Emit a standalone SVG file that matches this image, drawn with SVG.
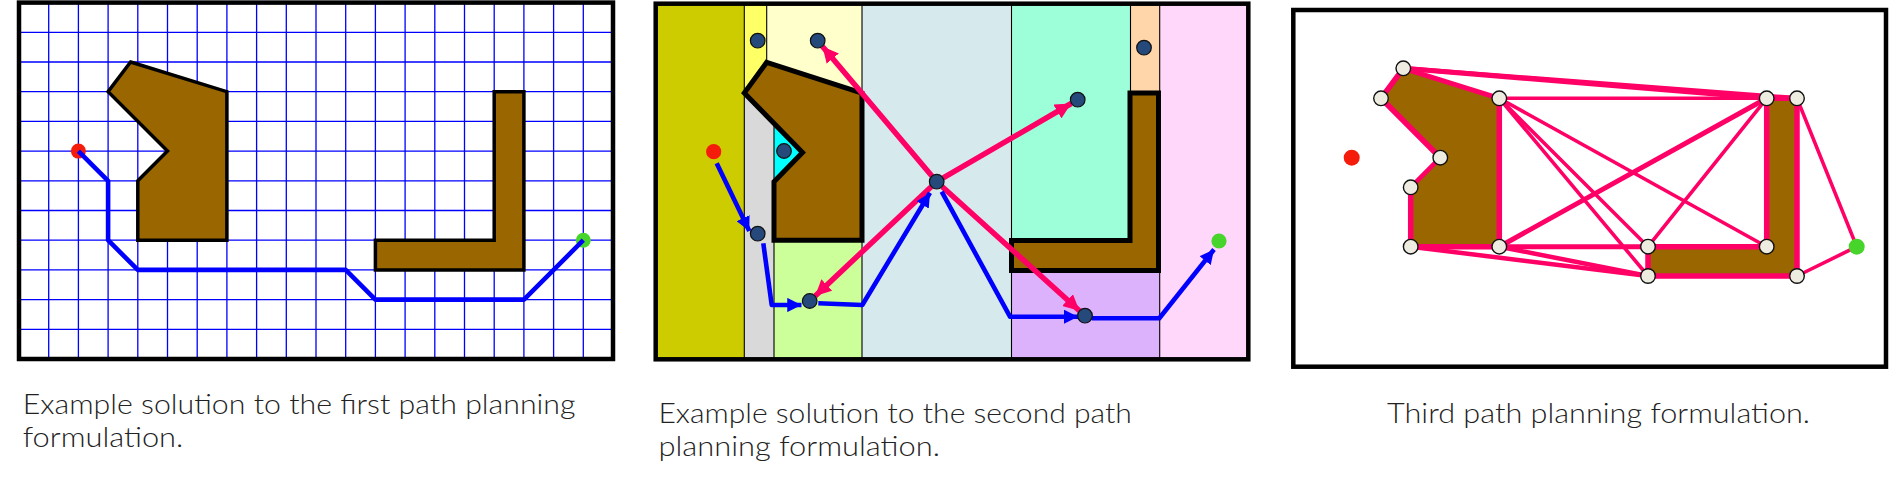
<svg xmlns="http://www.w3.org/2000/svg" width="1889" height="491" viewBox="0 0 1889 491">
<style>
.frame{fill:none;stroke:#000;stroke-width:4.5}
.grid{fill:none;stroke:#0000FF;stroke-width:1.3}
.obs{fill:#996600;stroke:#000;stroke-width:3.5;stroke-linejoin:miter}
.obs2{fill:#996600;stroke:#000;stroke-width:5;stroke-linejoin:miter}
.obs3{fill:#996600;stroke:#333;stroke-width:1}
.div{stroke:#000;stroke-width:1.1;fill:none}
.start{fill:#F51C0C}
.goal{fill:#47D52C}
.n2{fill:#24497A;stroke:#101010;stroke-width:1.2}
.vx{fill:#EEECE1;stroke:#111;stroke-width:1.4}
.bl{fill:none;stroke:#0000FF;stroke-width:4.6;stroke-linejoin:round}
.pk{fill:none;stroke:#FF0066;stroke-width:5.5}
.e{stroke:#FF0066;stroke-linecap:round}
.cap{font-family:Lato,"Open Sans","Liberation Sans",sans-serif;font-weight:300;font-size:26.5px;fill:#222}
</style>
<defs>
<marker id="ab" viewBox="0 0 10 10" refX="10" refY="5" markerWidth="3.1" markerHeight="3.1" orient="auto" markerUnits="strokeWidth">
<path d="M0,0 L10,5 L0,10 z" fill="#0000FF"/>
</marker>
<marker id="ap" viewBox="0 0 10 10" refX="10" refY="5" markerWidth="2.9" markerHeight="2.9" orient="auto" markerUnits="strokeWidth">
<path d="M0,0 L10,5 L0,10 z" fill="#FF0066"/>
</marker>
</defs>

<!-- ================= PANEL 1 ================= -->
<g id="panel1">
<rect x="19" y="2.6" width="594" height="356.4" fill="#fff"/>
<path class="grid" d="M48.7 2.6V359M78.4 2.6V359M108.1 2.6V359M137.8 2.6V359M167.5 2.6V359M197.2 2.6V359M226.9 2.6V359M256.6 2.6V359M286.3 2.6V359M316 2.6V359M345.7 2.6V359M375.4 2.6V359M405.1 2.6V359M434.8 2.6V359M464.5 2.6V359M494.2 2.6V359M523.9 2.6V359M553.6 2.6V359M583.3 2.6V359M19 32.3H613M19 62H613M19 91.7H613M19 121.4H613M19 151.1H613M19 180.8H613M19 210.5H613M19 240.2H613M19 269.9H613M19 299.6H613M19 329.3H613"/>
<g id="p1-obstacle1"><polygon class="obs" points="130.6,62 226.9,91.7 226.9,240.2 137.8,240.2 137.8,180.8 167.5,151.1 108.1,91.7"/></g>
<g id="p1-obstacle2"><polygon class="obs" points="375.4,240.2 494.2,240.2 494.2,91.7 523.9,91.7 523.9,269.9 375.4,269.9"/></g>
<g id="p1-start"><circle class="start" cx="78.4" cy="151.1" r="7.5"/></g>
<g id="p1-goal"><circle class="goal" cx="583.3" cy="240.2" r="7.5"/></g>
<g id="p1-connectors">
<polyline class="bl" points="78.4,151.1 108.1,180.8 108.1,240.2 137.8,269.9 345.7,269.9 375.4,299.6 523.9,299.6 583.3,240.2"/>
</g>
<rect class="frame" x="19" y="2.6" width="594" height="356.4"/>
</g>

<!-- ================= PANEL 2 ================= -->
<g id="panel2">
<g id="p2-cells">
<rect x="655.7" y="3.7" width="88.6" height="355.6" fill="#CCCC00"/>
<rect x="744.3" y="3.7" width="22.4" height="92" fill="#FFFF66"/>
<rect x="766.7" y="3.7" width="95.3" height="92" fill="#FFFFCC"/>
<rect x="744.3" y="93" width="29.7" height="266.3" fill="#D9D9D9"/>
<polygon points="774,120 804,152.5 774,184" fill="#00FFFF"/>
<rect x="774" y="240" width="88" height="119.3" fill="#CCFF99"/>
<rect x="862" y="3.7" width="149.5" height="355.6" fill="#D6EAEE"/>
<rect x="1011.5" y="3.7" width="119" height="237" fill="#9CFFD9"/>
<rect x="1130.5" y="3.7" width="29.2" height="90" fill="#FFD6AA"/>
<rect x="1011.5" y="270" width="148.2" height="89.3" fill="#DDB2FC"/>
<rect x="1159.7" y="3.7" width="88.6" height="355.6" fill="#FFD7FB"/>
<path class="div" d="M744.3 3.7V359.3M766.7 3.7V62.3M774 120V359.3M862 3.7V359.3M1011.5 3.7V359.3M1130.5 3.7V93M1159.7 3.7V359.3"/>
</g>
<g id="p2-obstacle1"><polygon class="obs2" points="766.7,62.3 862,93 862,240.3 774,240.3 774,181.7 802.5,152.5 744.3,93"/></g>
<g id="p2-obstacle2"><polygon class="obs2" points="1011.5,240.5 1130,240.5 1130,93 1158.5,93 1158.5,270.5 1011.5,270.5"/></g>
<g id="p2-connectors">
<line class="pk" x1="931.9" y1="176" x2="822.5" y2="46.4" marker-end="url(#ap)"/>
<line class="pk" x1="943.2" y1="177.9" x2="1071.2" y2="103.5" marker-end="url(#ap)"/>
<line class="pk" x1="931.2" y1="186.8" x2="815.2" y2="295.9" marker-end="url(#ap)"/>
<line class="pk" x1="942.3" y1="186.7" x2="1079.4" y2="310.7" marker-end="url(#ap)"/>
<polyline class="bl" points="716.7,163.3 749.3,231" marker-end="url(#ab)"/>
<polyline class="bl" points="763.3,243.3 771.7,305 801.5,305" marker-end="url(#ab)"/>
<polyline class="bl" points="818.3,303.3 862.3,305 930,192.7" marker-end="url(#ab)"/>
<polyline class="bl" points="941.7,191.7 1010,316.7 1078,316.7" marker-end="url(#ab)"/>
<polyline class="bl" points="1092,318.3 1159.3,318.3 1214,249.5" marker-end="url(#ab)"/>
</g>
<g id="p2-start"><circle class="start" cx="713.7" cy="151.7" r="7.6"/></g>
<g id="p2-goal"><circle class="goal" cx="1219" cy="241" r="7.6"/></g>
<g id="p2-n1"><circle class="n2" cx="757.7" cy="40.7" r="7.3"/></g>
<g id="p2-n2"><circle class="n2" cx="817.7" cy="40.7" r="7.3"/></g>
<g id="p2-n3"><circle class="n2" cx="784" cy="151" r="7.3"/></g>
<g id="p2-n4"><circle class="n2" cx="757.7" cy="233.7" r="7.3"/></g>
<g id="p2-n5"><circle class="n2" cx="809.7" cy="301" r="7.3"/></g>
<g id="p2-n6"><circle class="n2" cx="936.7" cy="181.7" r="7.3"/></g>
<g id="p2-n7"><circle class="n2" cx="1144" cy="47.7" r="7.3"/></g>
<g id="p2-n8"><circle class="n2" cx="1077.7" cy="99.7" r="7.3"/></g>
<g id="p2-n9"><circle class="n2" cx="1085" cy="315.7" r="7.3"/></g>
<rect class="frame" x="655.7" y="3.7" width="592.6" height="355.6"/>
</g>

<!-- ================= PANEL 3 ================= -->
<g id="panel3">
<rect x="1293.3" y="10" width="592.7" height="356.7" fill="#fff"/>
<g id="p3-obstacle1"><polygon class="obs3" points="1403.3,68.3 1499.3,98.3 1499.3,246.7 1410.7,246.7 1410.7,187.3 1440.3,157.7 1381,98.3"/></g>
<g id="p3-obstacle2"><polygon class="obs3" points="1648,246.7 1766.7,246.7 1766.7,98.3 1797,98.3 1797,276 1648,276"/></g>
<g id="p3-connectors">
<line class="e" stroke-width="5.5" x1="1403.3" y1="68.3" x2="1381" y2="98.3"/>
<line class="e" stroke-width="5.5" x1="1381" y1="98.3" x2="1440.3" y2="157.7"/>
<line class="e" stroke-width="4.5" x1="1440.3" y1="157.7" x2="1410.7" y2="187.3"/>
<line class="e" stroke-width="5.5" x1="1410.7" y1="187.3" x2="1410.7" y2="246.7"/>
<line class="e" stroke-width="5.5" x1="1410.7" y1="246.7" x2="1499.3" y2="246.7"/>
<line class="e" stroke-width="5.5" x1="1499.3" y1="246.7" x2="1499.3" y2="98.3"/>
<line class="e" stroke-width="5" x1="1499.3" y1="98.3" x2="1403.3" y2="68.3"/>
<line class="e" stroke-width="5.5" x1="1648" y1="246.7" x2="1766.7" y2="246.7"/>
<line class="e" stroke-width="5.5" x1="1766.7" y1="246.7" x2="1766.7" y2="98.3"/>
<line class="e" stroke-width="5.5" x1="1766.7" y1="98.3" x2="1797" y2="98.3"/>
<line class="e" stroke-width="5.5" x1="1797" y1="98.3" x2="1797" y2="276"/>
<line class="e" stroke-width="5.5" x1="1797" y1="276" x2="1648" y2="276"/>
<line class="e" stroke-width="5.5" x1="1648" y1="276" x2="1648" y2="246.7"/>
<line class="e" stroke-width="5" x1="1403.3" y1="68.3" x2="1766.7" y2="98.3"/>
<line class="e" stroke-width="4.5" x1="1403.3" y1="68.3" x2="1797" y2="98.3"/>
<line class="e" stroke-width="3.6" x1="1499.3" y1="98.3" x2="1766.7" y2="98.3"/>
<line class="e" stroke-width="3.6" x1="1499.3" y1="98.3" x2="1648" y2="246.7"/>
<line class="e" stroke-width="3.6" x1="1499.3" y1="98.3" x2="1648" y2="276"/>
<line class="e" stroke-width="3.6" x1="1499.3" y1="98.3" x2="1766.7" y2="246.7"/>
<line class="e" stroke-width="5" x1="1499.3" y1="246.7" x2="1766.7" y2="98.3"/>
<line class="e" stroke-width="5" x1="1499.3" y1="246.7" x2="1648" y2="246.7"/>
<line class="e" stroke-width="3.6" x1="1648" y1="246.7" x2="1766.7" y2="98.3"/>
<line class="e" stroke-width="4.5" x1="1410.7" y1="246.7" x2="1648" y2="276"/>
<line class="e" stroke-width="4.5" x1="1499.3" y1="246.7" x2="1648" y2="276"/>
<line class="e" stroke-width="3.6" x1="1797" y1="98.3" x2="1856.7" y2="246.7"/>
<line class="e" stroke-width="3.6" x1="1797" y1="276" x2="1856.7" y2="246.7"/>
</g>
<g id="p3-start"><circle class="start" cx="1351.7" cy="157.7" r="8"/></g>
<g id="p3-goal"><circle class="goal" cx="1856.7" cy="246.7" r="8"/></g>
<g id="p3-v1"><circle class="vx" cx="1403.3" cy="68.3" r="7.3"/></g>
<g id="p3-v2"><circle class="vx" cx="1381" cy="98.3" r="7.3"/></g>
<g id="p3-v3"><circle class="vx" cx="1499.3" cy="98.3" r="7.3"/></g>
<g id="p3-v4"><circle class="vx" cx="1440.3" cy="157.7" r="7.3"/></g>
<g id="p3-v5"><circle class="vx" cx="1410.7" cy="187.3" r="7.3"/></g>
<g id="p3-v6"><circle class="vx" cx="1410.7" cy="246.7" r="7.3"/></g>
<g id="p3-v7"><circle class="vx" cx="1499.3" cy="246.7" r="7.3"/></g>
<g id="p3-v8"><circle class="vx" cx="1766.7" cy="98.3" r="7.3"/></g>
<g id="p3-v9"><circle class="vx" cx="1797" cy="98.3" r="7.3"/></g>
<g id="p3-v10"><circle class="vx" cx="1648" cy="246.7" r="7.3"/></g>
<g id="p3-v11"><circle class="vx" cx="1766.7" cy="246.7" r="7.3"/></g>
<g id="p3-v12"><circle class="vx" cx="1648" cy="276" r="7.3"/></g>
<g id="p3-v13"><circle class="vx" cx="1797" cy="276" r="7.3"/></g>
<rect class="frame" x="1293.3" y="10" width="592.7" height="356.7"/>
</g>

<!-- ================= CAPTIONS ================= -->
<g id="captions">
<text class="cap" x="22.7" y="414.3" textLength="552.8" lengthAdjust="spacingAndGlyphs">Example solution to the first path planning</text>
<text class="cap" x="22.7" y="446.5" textLength="160.6" lengthAdjust="spacingAndGlyphs">formulation.</text>
<text class="cap" x="658.4" y="423" textLength="473.4" lengthAdjust="spacingAndGlyphs">Example solution to the second path</text>
<text class="cap" x="658.4" y="455.5" textLength="281.6" lengthAdjust="spacingAndGlyphs">planning formulation.</text>
<text class="cap" x="1387" y="423" textLength="423" lengthAdjust="spacingAndGlyphs">Third path planning formulation.</text>
</g>
</svg>
